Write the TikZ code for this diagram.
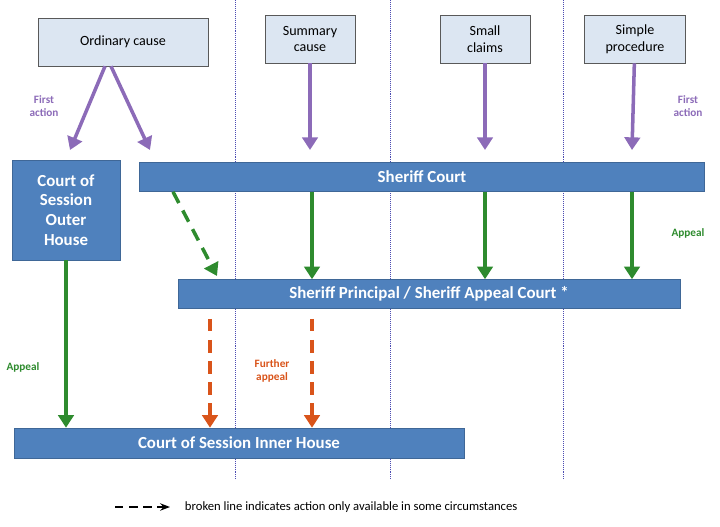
\documentclass[tikz,border=0pt]{standalone}
\usepackage{fontspec}
\setmainfont{Carlito}
\usetikzlibrary{positioning,arrows.meta}
\definecolor{lightbox}{HTML}{DCE6F2}
\definecolor{courtblue}{HTML}{4F81BD}
\definecolor{actpurple}{HTML}{8C6BB8}
\definecolor{appgreen}{HTML}{2E8B2E}
\definecolor{furtherred}{HTML}{D9541A}
\begin{document}
\begin{tikzpicture}[x=0.025cm, y=-0.025cm,
        src/.style={rectangle, draw=gray!70!black, fill=lightbox, align=center, font=\normalsize, inner sep=2pt},
        court/.style={rectangle, draw=courtblue!80!black, fill=courtblue, text=white, font=\large\bfseries, align=center, inner sep=2pt},
        first/.style={-{Triangle[length=9pt,width=11pt]}, line width=2.5pt, actpurple},
        appeal/.style={-{Triangle[length=9pt,width=11pt]}, line width=2.5pt, appgreen},
        further/.style={-{Triangle[length=9pt,width=11pt]}, line width=2.5pt, furtherred, dash pattern=on 9pt off 6pt},
        lbl/.style={font=\footnotesize\bfseries, align=center}
    ]
        \useasboundingbox (0,0) rectangle (720,526);

        % dotted column separators
        \foreach \xx in {235,390,563}
            \draw[gray!60!blue, densely dotted] (\xx,0) -- (\xx,480);

        % where actions start
        \node[src, minimum width=170*0.025cm, minimum height=48*0.025cm] (ordinary) at (123,42) {Ordinary cause};
        \node[src, minimum width=90*0.025cm, minimum height=48*0.025cm] (summary) at (310,39) {Summary\\cause};
        \node[src, minimum width=90*0.025cm, minimum height=48*0.025cm] (small) at (485,39) {Small\\claims};
        \node[src, minimum width=101*0.025cm, minimum height=48*0.025cm] (simple) at (635,39) {Simple\\procedure};

        % courts
        \node[court, minimum width=108*0.025cm, minimum height=100*0.025cm] (outer) at (66,210) {Court of\\Session\\Outer\\House};
        \node[court, minimum width=565*0.025cm, minimum height=29*0.025cm] (sheriff) at (422,177) {Sheriff Court};
        \node[court, minimum width=502*0.025cm, minimum height=29*0.025cm] (principal) at (429,294) {Sheriff Principal / Sheriff Appeal Court *};
        \node[court, minimum width=450*0.025cm, minimum height=30*0.025cm] (inner) at (239,443) {Court of Session Inner House};

        % first action
        \draw[first] (ordinary.south) ++(-18,0) coordinate (o1) -- (70,150);
        \draw[first] (ordinary.south) ++(-12,0) coordinate (o2) -- (150,150);
        \draw[first] (summary) -- (310,150);
        \draw[first] (small) -- (485,150);
        \draw[first] (simple) -- (632,150);
        \node[lbl, text=actpurple] (fa1) at (44,106) {First\\action};
        \node[lbl, text=actpurple] (fa2) at (688,106) {First\\action};

        % appeals
        \draw[appeal] (outer) -- (inner.north -| outer);
        \draw[appeal] (sheriff.south -| 312,0) -- (principal.north -| 312,0);
        \draw[appeal] (sheriff.south -| 485,0) -- (principal.north -| 485,0);
        \draw[appeal] (sheriff.south -| 632,0) -- (principal.north -| 632,0);
        \draw[appeal, dash pattern=on 9pt off 6pt] (sheriff.south -| 173,0) -- (217,276);
        \node[lbl, text=appgreen] (ap1) at (688,233) {Appeal};
        \node[lbl, text=appgreen] (ap2) at (23,367) {Appeal};

        % further appeal
        \draw[further] (principal.south -| 210,0) ++(0,10) -- (inner.north -| 210,0);
        \draw[further] (principal.south -| 312,0) ++(0,10) -- (inner.north -| 312,0);
        \node[lbl, text=furtherred] (fur) at (272,371) {Further\\appeal};

        % key
        \coordinate (k1) at (115,507);
        \coordinate (k2) at (170,507);
        \draw[-{Stealth[length=7pt]}, line width=1.4pt, dash pattern=on 6pt off 4pt] (k1) -- (k2);
        \node[font=\small, anchor=west] (key) at (180,507) {broken line indicates action only available in some circumstances};
    \end{tikzpicture}
\end{document}
